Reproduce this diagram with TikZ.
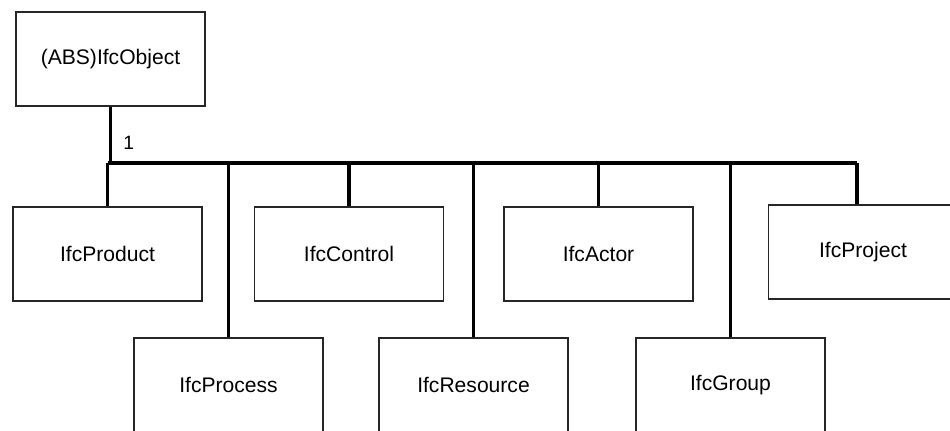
\documentclass[tikz,border=0pt]{standalone}
\usepackage{fontspec}
\setmainfont{Liberation Sans}
\usepackage{tikz}

\begin{document}
\begin{tikzpicture}[x=0.02cm, y=-0.02cm,
	entity/.style={draw=black!85, line width=0.6pt, minimum width=3.78cm, minimum height=1.88cm, inner sep=0pt, font=\fontsize{12}{14}\selectfont},
	link/.style={line width=2pt}]
	\useasboundingbox (0,0) rectangle (950,430);
	\clip (0,0) rectangle (950,430);

	\node[entity] (obj) at (110.5,59) {(ABS)IfcObject};

	\node[entity] (prod) at (107.5,254) {IfcProduct};
	\node[entity] (ctrl) at (349,254) {IfcControl};
	\node[entity] (actor) at (598.5,254) {IfcActor};
	\node[entity] (proj) at (863,252) {IfcProject};

	\node[entity] (proc) at (228.5,385) {IfcProcess};
	\node[entity] (res) at (473.5,385) {IfcResource};
	\node[entity] (group) at (730.5,385) {IfcGroup};

	\coordinate (busL) at (107.5,163);
	\coordinate (busR) at (857,163);

	\draw[link] (obj.south) -- (obj.south |- busL) node[pos=0.65, right=3pt, font=\fontsize{11}{13}\selectfont] (card) {1};
	\draw[link] (busL) -- (busR);

	\draw[link] (busL) -- (prod.north);
	\draw[link] (proc.north) -- (proc.north |- busL);
	\draw[link] (ctrl.north) -- (ctrl.north |- busL);
	\draw[link] (res.north) -- (res.north |- busL);
	\draw[link] (actor.north) -- (actor.north |- busL);
	\draw[link] (group.north) -- (group.north |- busL);
	\draw[link] (busR) -- (busR |- proj.north);

\end{tikzpicture}
\end{document}
